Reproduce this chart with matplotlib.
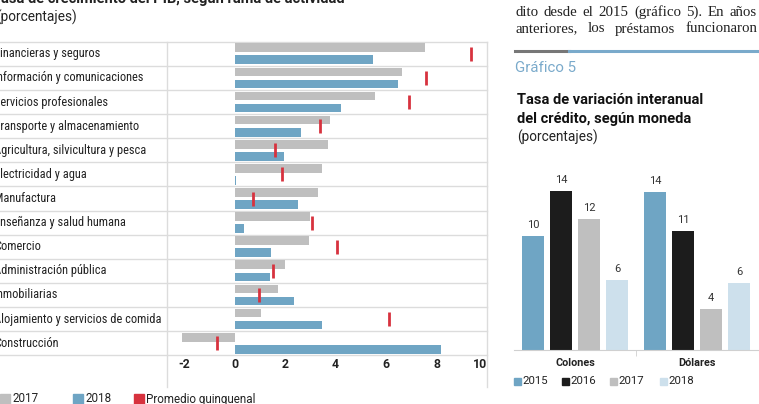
import matplotlib
matplotlib.use('Agg')
import matplotlib.pyplot as plt
import matplotlib.transforms as mtransforms
from matplotlib import font_manager
from matplotlib.patches import Rectangle
from matplotlib.lines import Line2D

# grafico izquierdo: crecimiento del PIB por rama
ramas = ['Financieras y seguros', 'Información y comunicaciones', 'Servicios profesionales',
         'Transporte y almacenamiento', 'Agricultura, silvicultura y pesca', 'Electricidad y agua',
         'Manufactura', 'Enseñanza y salud humana', 'Comercio', 'Administración pública',
         'Inmobiliarias', 'Alojamiento y servicios de comida', 'Construcción']
pib_2017 = [7.53, 6.64, 5.56, 3.78, 3.70, 3.48, 3.29, 2.98, 2.95, 1.98, 1.72, 1.03, -2.08]
pib_2018 = [5.49, 6.49, 4.20, 2.62, 1.96, 0.07, 2.50, 0.36, 1.43, 1.41, 2.37, 3.45, 8.19]
promedio = [9.35, 7.57, 6.89, 3.38, 1.58, 1.88, 0.74, 3.08, 4.04, 1.54, 0.97, 6.10, -0.69]
ticks_pib = [-2, 0, 2, 4, 6, 8, 10]
leyenda_pib = ['2017', '2018', 'Promedio quinquenal']

# grafico derecho: credito segun moneda
monedas = ['Colones', 'Dólares']
anios = ['2015', '2016', '2017', '2018']
credito_2015 = [10.3, 14.2]
credito_2016 = [14.3, 10.7]
credito_2017 = [11.8, 3.7]
credito_2018 = [6.3, 6.0]

W, H = 759, 404


def fx(px):
    return px / W


def fy(py):
    return 1 - py / H


def pick(*names):
    for n in names:
        try:
            font_manager.findfont(font_manager.FontProperties(family=n), fallback_to_default=False)
            return n
        except ValueError:
            pass
    return 'DejaVu Sans'


sans = pick('Roboto', 'DejaVu Sans')
narrow = pick('Liberation Sans Narrow', 'Roboto Condensed', sans)
serif = pick('Liberation Serif', 'DejaVu Serif')
cat_size = 8.9 if narrow != sans else 7.6
plt.rcParams['font.family'] = [sans, 'DejaVu Sans']

GRIS = '#bfbfbf'
AZUL = '#6fa5c4'
ROJO = '#d7323e'
NEGRO = '#1c1c1c'
CELESTE = '#cde0ec'
LINEA = '#dcdcdc'
TXT = '#222222'

fig = plt.figure(figsize=(W / 100, H / 100), dpi=100)

# ---------- izquierda ----------
fig.text(fx(-8), fy(3), 'Tasa de crecimiento del PIB, según rama de actividad',
         fontsize=10.5, fontweight='bold', color=TXT, va='baseline')
fig.text(fx(-4), fy(17), '(porcentajes)', fontsize=9.8, color=TXT, va='center')

ax1 = fig.add_axes([fx(167), fy(355.3), fx(487) - fx(167), (355.3 - 41.7) / H])
y = list(range(len(ramas)))
ax1.barh([i - 0.25 for i in y], pib_2017, height=0.36, color=GRIS)
ax1.barh([i + 0.25 for i in y], pib_2018, height=0.36, color=AZUL)
ax1.plot(promedio, y, ls='none', marker='|', ms=10, mew=2, color=ROJO)
ax1.set_xlim(-2.68, 9.97)
ax1.set_ylim(len(ramas) - 0.5, -0.5)
for s in ax1.spines.values():
    s.set_visible(False)
ax1.set_yticks([])
ax1.set_xticks(ticks_pib)
ax1.set_xticklabels([str(t) for t in ticks_pib], fontweight='bold', fontsize=8.8, color=TXT)
ax1.get_xticklabels()[-1].set_horizontalalignment('right')
ax1.tick_params(axis='x', length=0, pad=2)

ext = 167 / 320
for b in range(len(ramas) + 1):
    ax1.axhline(b - 0.5, xmin=-ext, xmax=1, color=LINEA, lw=1, clip_on=False, zorder=0)
for xa in (0, 1):
    ax1.plot([xa, xa], [-31.4 / 313.6, 1], transform=ax1.transAxes, color=LINEA, lw=1,
             clip_on=False, zorder=0)

trans = mtransforms.blended_transform_factory(fig.transFigure, ax1.transData)
for i, name in enumerate(ramas):
    ax1.text(fx(-6), i, name, transform=trans, va='center', ha='left', fontsize=cat_size,
             family=[narrow, 'DejaVu Sans'], color=TXT, clip_on=False)

for xs, lab, col in zip([0, 72.7, 134], leyenda_pib, [GRIS, AZUL, ROJO]):
    fig.add_artist(Rectangle((fx(xs), fy(404)), 10 / W, 10 / H, color=col,
                             transform=fig.transFigure))
    fig.text(fx(xs + 12.5), fy(399), lab, fontsize=8.4, color=TXT, va='center')

# ---------- derecha ----------
def justified(words, x0, x1, yy, **kw):
    r = fig.canvas.get_renderer()
    arts = [fig.text(0, fy(yy), w, va='center', **kw) for w in words]
    widths = [a.get_window_extent(r).width for a in arts]
    gap = (x1 - x0 - sum(widths)) / (len(words) - 1)
    x = x0
    for a, w in zip(arts, widths):
        a.set_x(fx(x))
        x += w + gap


justified('dito desde el 2015 (gráfico 5). En años'.split(), 515, 757, 12,
          family=serif, fontsize=10.7, color=TXT)
justified('anteriores, los préstamos funcionaron'.split(), 515, 757, 29,
          family=serif, fontsize=10.7, color=TXT)

fig.add_artist(Line2D([fx(515), fx(569)], [fy(51), fy(51)], color='#777777', lw=2.2))
fig.add_artist(Line2D([fx(569), fx(759)], [fy(51), fy(51)], color='#7aaacb', lw=2.2))
fig.text(fx(515), fy(68), 'Gráfico 5', fontsize=10.8, color='#7aaacb', va='center')

fig.text(fx(517), fy(100), 'Tasa de variación interanual', fontsize=10.5,
         fontweight='bold', color='#111111', va='center')
fig.text(fx(517), fy(119.3), 'del crédito, según moneda', fontsize=10.5,
         fontweight='bold', color='#111111', va='center')
fig.text(fx(517), fy(137.5), '(porcentajes)', fontsize=9.8, color=TXT, va='center')

ax2 = fig.add_axes([fx(514), fy(350), fx(758) - fx(514), 180 / H])
series = [credito_2015, credito_2016, credito_2017, credito_2018]
colores = [AZUL, NEGRO, GRIS, CELESTE]
for k, (vals, col) in enumerate(zip(series, colores)):
    xs = [g + (k - 1.5) * 0.23 for g in range(len(monedas))]
    ax2.bar(xs, vals, width=0.18, color=col)
    for xv, v in zip(xs, vals):
        ax2.annotate('{:.0f}'.format(v), (xv, v), xytext=(0, 8), textcoords='offset points',
                     ha='center', va='center', fontsize=8, color='#333333')
ax2.set_xlim(-0.5, 1.5)
ax2.set_ylim(0, 180 / 11.1)
for s in ('top', 'right', 'left'):
    ax2.spines[s].set_visible(False)
ax2.spines['bottom'].set_color('#d0d0d0')
ax2.set_yticks([])
ax2.set_xticks(range(len(monedas)))
ax2.set_xticklabels(monedas, fontweight='bold', fontsize=7.8, color=TXT)
ax2.tick_params(axis='x', which='major', length=0, pad=6)
ax2.set_xticks([0.5], minor=True)
ax2.tick_params(axis='x', which='minor', length=4, color='#d0d0d0')

for xs, lab, col in zip([514, 562, 610, 660], anios, colores):
    fig.add_artist(Rectangle((fx(xs), fy(384.5)), 7 / W, 7 / H, color=col,
                             transform=fig.transFigure))
    fig.text(fx(xs + 8), fy(381), lab, fontsize=8.2, color=TXT, va='center')

fig.savefig('out.png', dpi=100)
